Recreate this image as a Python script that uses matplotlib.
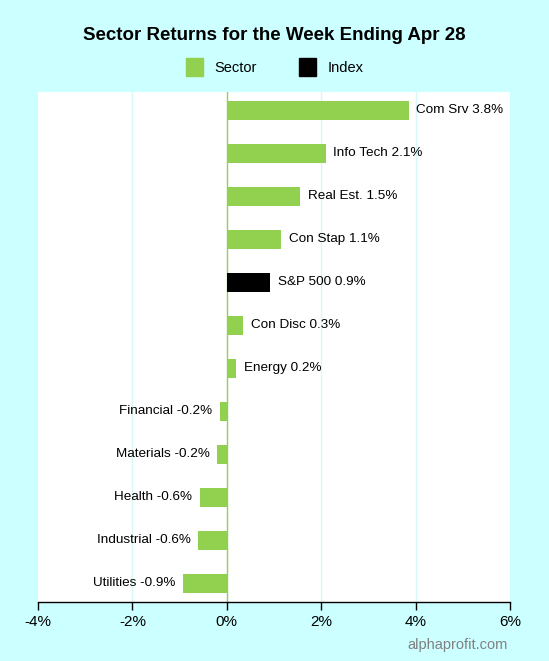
import matplotlib.pyplot as plt
import numpy as np
from matplotlib.patches import Patch

# data (top to bottom as shown)
names = ["Com Srv", "Info Tech", "Real Est.", "Con Stap", "S&P 500", "Con Disc",
         "Energy", "Financial", "Materials", "Health", "Industrial", "Utilities"]
returns = [3.85, 2.1, 1.55, 1.15, 0.92, 0.35, 0.2, -0.15, -0.2, -0.57, -0.6, -0.92]
shown = ["3.8%", "2.1%", "1.5%", "1.1%", "0.9%", "0.3%", "0.2%",
         "-0.2%", "-0.2%", "-0.6%", "-0.6%", "-0.9%"]
is_index = [False, False, False, False, True, False, False, False, False, False, False, False]
xticks = [-4, -2, 0, 2, 4, 6]

green = "#92d050"
bg = "#ccffff"
plt.rcParams['font.family'] = ['Liberation Sans', 'DejaVu Sans']

fig = plt.figure(figsize=(5.49, 6.61), dpi=100, facecolor=bg)
ax = fig.add_axes([38/549, 1 - 602/661, (510-38)/549, (602-92)/661])
ax.set_facecolor("white")

n = len(names)
ypos = np.arange(n)[::-1]
cols = ["black" if f else green for f in is_index]
ax.barh(ypos, returns, height=0.44, color=cols, zorder=3)

for y, v, nm, s in zip(ypos, returns, names, shown):
    if v >= 0:
        ax.text(v + 0.16, y, nm + " " + s, va="center", ha="left", fontsize=9.7, zorder=4)
    else:
        ax.text(v - 0.16, y, nm + " " + s, va="center", ha="right", fontsize=9.7, zorder=4)

ax.set_xlim(-4, 6)
ax.set_ylim(-0.44, 11.42)
ax.set_xticks(xticks)
ax.set_xticklabels([f"{t}%" for t in xticks], fontsize=11)
ax.set_yticks([])
for t in [-2, 2, 4]:
    ax.axvline(t, color="#d8f8f8", lw=1, zorder=1)
ax.axvline(0, color=green, lw=1, zorder=2)
for side in ["left", "right", "top"]:
    ax.spines[side].set_visible(False)
ax.spines["bottom"].set_linewidth(1)
ax.tick_params(axis="x", length=6, width=1, direction="out")

fig.text(0.5, 1 - 35/661, "Sector Returns for the Week Ending Apr 28",
         ha="center", va="center", fontsize=13.5, fontweight="bold")

# legend
handles = [Patch(color=green, label="Sector"), Patch(color="black", label="Index")]
fig.legend(handles=handles, loc="center", bbox_to_anchor=(0.5, 1 - 67/661), ncol=2,
           frameon=False, fontsize=10.5, handlelength=1.15, handleheight=1.45,
           columnspacing=2.9, handletextpad=0.8)

fig.text(508/549, 1 - 645/661, "alphaprofit.com", ha="right", va="center",
         fontsize=10.5, color="#808080")

fig.savefig("out.png", dpi=100, facecolor=bg)
